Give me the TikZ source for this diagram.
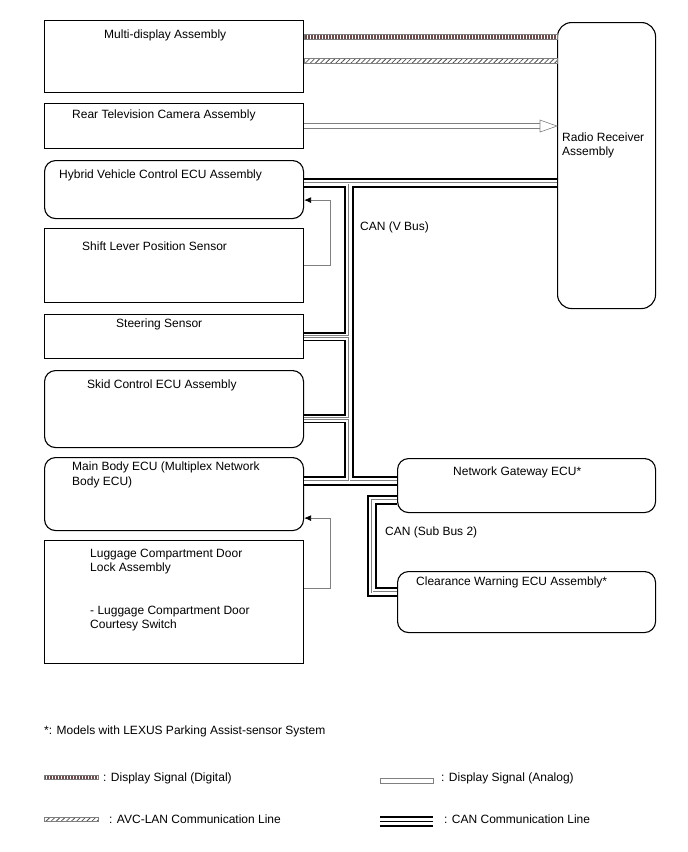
\documentclass[tikz,border=0pt]{standalone}
\usepackage{fontspec}
\setmainfont{Liberation Sans}
\usetikzlibrary{positioning,arrows.meta,calc,patterns.meta}
\definecolor{DigC}{HTML}{6E4B4B}
\definecolor{WireG}{HTML}{808080}
\definecolor{HatchC}{HTML}{505050}

\begin{document}
\begin{tikzpicture}[x=1pt,y=-1pt,font=\fontsize{12}{14.5}\selectfont,
  bx/.style={draw,line width=1.1pt,anchor=north west,inner sep=0pt,minimum width=259},
  rbx/.style={bx,rounded corners=11pt},
  tx/.style={anchor=base west,inner sep=0pt,align=left},
  digi/.style={draw=WireG,line width=.5pt,pattern={Lines[angle=90,distance=3pt,line width=1.1pt]},pattern color=DigC},
  avc/.style={draw=WireG,line width=.5pt,pattern={Lines[angle=45,distance=3.6pt,line width=.8pt]},pattern color=HatchC},
  ana/.style={draw=WireG,line width=.6pt,double=white,double distance=4.6pt},
  anahead/.style={draw=WireG,line width=.6pt,fill=white,line join=miter},
  fb/.style={draw=WireG,line width=.8pt,-{Latex[length=7pt,width=6pt,black]}},
  canA/.style={line width=9.5pt,black},
  canB/.style={line width=6pt,white},
  canC/.style={line width=2.6pt,WireG},
  canD/.style={line width=.9pt,white}]

\useasboundingbox (0,0) rectangle (688,852);

% left column
\node[bx,minimum height=72] (md) at (44,20) {};
\node[bx,minimum height=45] (rtv) at (44,103) {};
\node[rbx,minimum height=58] (hv) at (44,160) {};
\node[bx,minimum height=74] (sl) at (44,228) {};
\node[bx,minimum height=44] (ss) at (44,314) {};
\node[rbx,minimum height=77] (sk) at (44,370) {};
\node[rbx,minimum height=73] (mb) at (44,457) {};
\node[bx,minimum height=123] (lg) at (44,540) {};

% right column
\node[rbx,rounded corners=14pt,minimum width=98,minimum height=286] (rr) at (557,22) {};
\node[rbx,minimum width=258,minimum height=54] (gw) at (397,458) {};
\node[rbx,minimum width=258,minimum height=61] (cw) at (397,571) {};

% box texts (two-line ones sit on their last line)
\node[tx] (mdt) at (104,38) {Multi-display Assembly};
\node[tx] (rtvt) at (72,118) {Rear Television Camera Assembly};
\node[tx] (hvt) at (59,178) {Hybrid Vehicle Control ECU Assembly};
\node[tx] (slt) at (82,250) {Shift Lever Position Sensor};
\node[tx] (sst) at (116,327) {Steering Sensor};
\node[tx] (skt) at (87,388) {Skid Control ECU Assembly};
\node[tx] (mbt) at (72,485) {Main Body ECU (Multiplex Network\\Body ECU)};
\node[tx] (lgt1) at (90,571.5) {Luggage Compartment Door\\Lock Assembly};
\node[tx] (lgt2) at (90,628.5) {- Luggage Compartment Door\\Courtesy Switch};
\node[tx] (rrt) at (562,155.5) {Radio Receiver\\Assembly};
\node[tx] (gwt) at (453,475) {Network Gateway ECU*};
\node[tx] (cwt) at (416,585) {Clearance Warning ECU Assembly*};
\node[tx] (vbus) at (360,230) {CAN (V Bus)};
\node[tx] (sbus) at (385,535) {CAN (Sub Bus 2)};

% display signals
\draw[digi] ($(md.north east)+(0,14.5)$) rectangle ($(rr.north west)+(0,17.5)$);
\draw[avc] ($(md.north east)+(0,38.5)$) rectangle ($(rr.north west)+(0,41.5)$);
\draw[ana] (rtv.east) -- ($(rtv.east -| rr.west)+(-17,0)$);
\draw[anahead] (rtv.east -| rr.west) -- ++(-17,-6) -- ++(0,12) -- cycle;

% sensor inputs
\coordinate (hvin) at ($(hv.south east)+(0,-19)$);
\coordinate (mbin) at ($(mb.south east)+(0,-13)$);
\coordinate (lgout) at ($(lg.north east)+(0,48)$);
\draw[fb] (sl.east) -- ++(26,0) |- (hvin);
\draw[fb] (lgout) -- ++(26,0) |- (mbin);

% CAN lines
\coordinate (vtop) at (349,183);
\coordinate (vbot) at (349,481);
\coordinate (skc) at ($(sk.east)+(0,9.5)$);
\coordinate (sbt) at (372,500);
\coordinate (sbb) at (372,592);
\foreach \ly in {canA,canB,canC,canD}{
  \draw[\ly] (vtop -| hv.east) -- (vtop -| rr.west);
  \draw[\ly] (vtop) -- (vbot);
  \draw[\ly] (ss.east) -- (ss.east -| vtop);
  \draw[\ly] (skc) -- (skc -| vtop);
  \draw[\ly] (vbot -| mb.east) -- (vbot -| gw.west);
  \draw[\ly] (sbt -| gw.west) -- (sbt) -- (sbb) -- (sbb -| cw.west);
}

% legend
\node[tx] (note) at (44,734) {*: Models with LEXUS Parking Assist-sensor System};
\node[tx] (lgdig) at (103,781) {: Display Signal (Digital)};
\node[tx] (lgavc) at (109,823) {: AVC-LAN Communication Line};
\node[tx] (lgana) at (441,781) {: Display Signal (Analog)};
\node[tx] (lgcan) at (444,823) {: CAN Communication Line};
\draw[digi] (44,775.5) rectangle (98,779.5);
\draw[avc] (44,817) rectangle (98,821);
\draw[draw=WireG,line width=.6pt,fill=white] (380,778) rectangle (433,783);
\draw[line width=11pt] (380,821.5) -- (433,821.5);
\draw[line width=6.5pt,white] (380,821.5) -- (433,821.5);
\draw[line width=1.8pt] (380,821.5) -- (433,821.5);

\end{tikzpicture}
\end{document}
